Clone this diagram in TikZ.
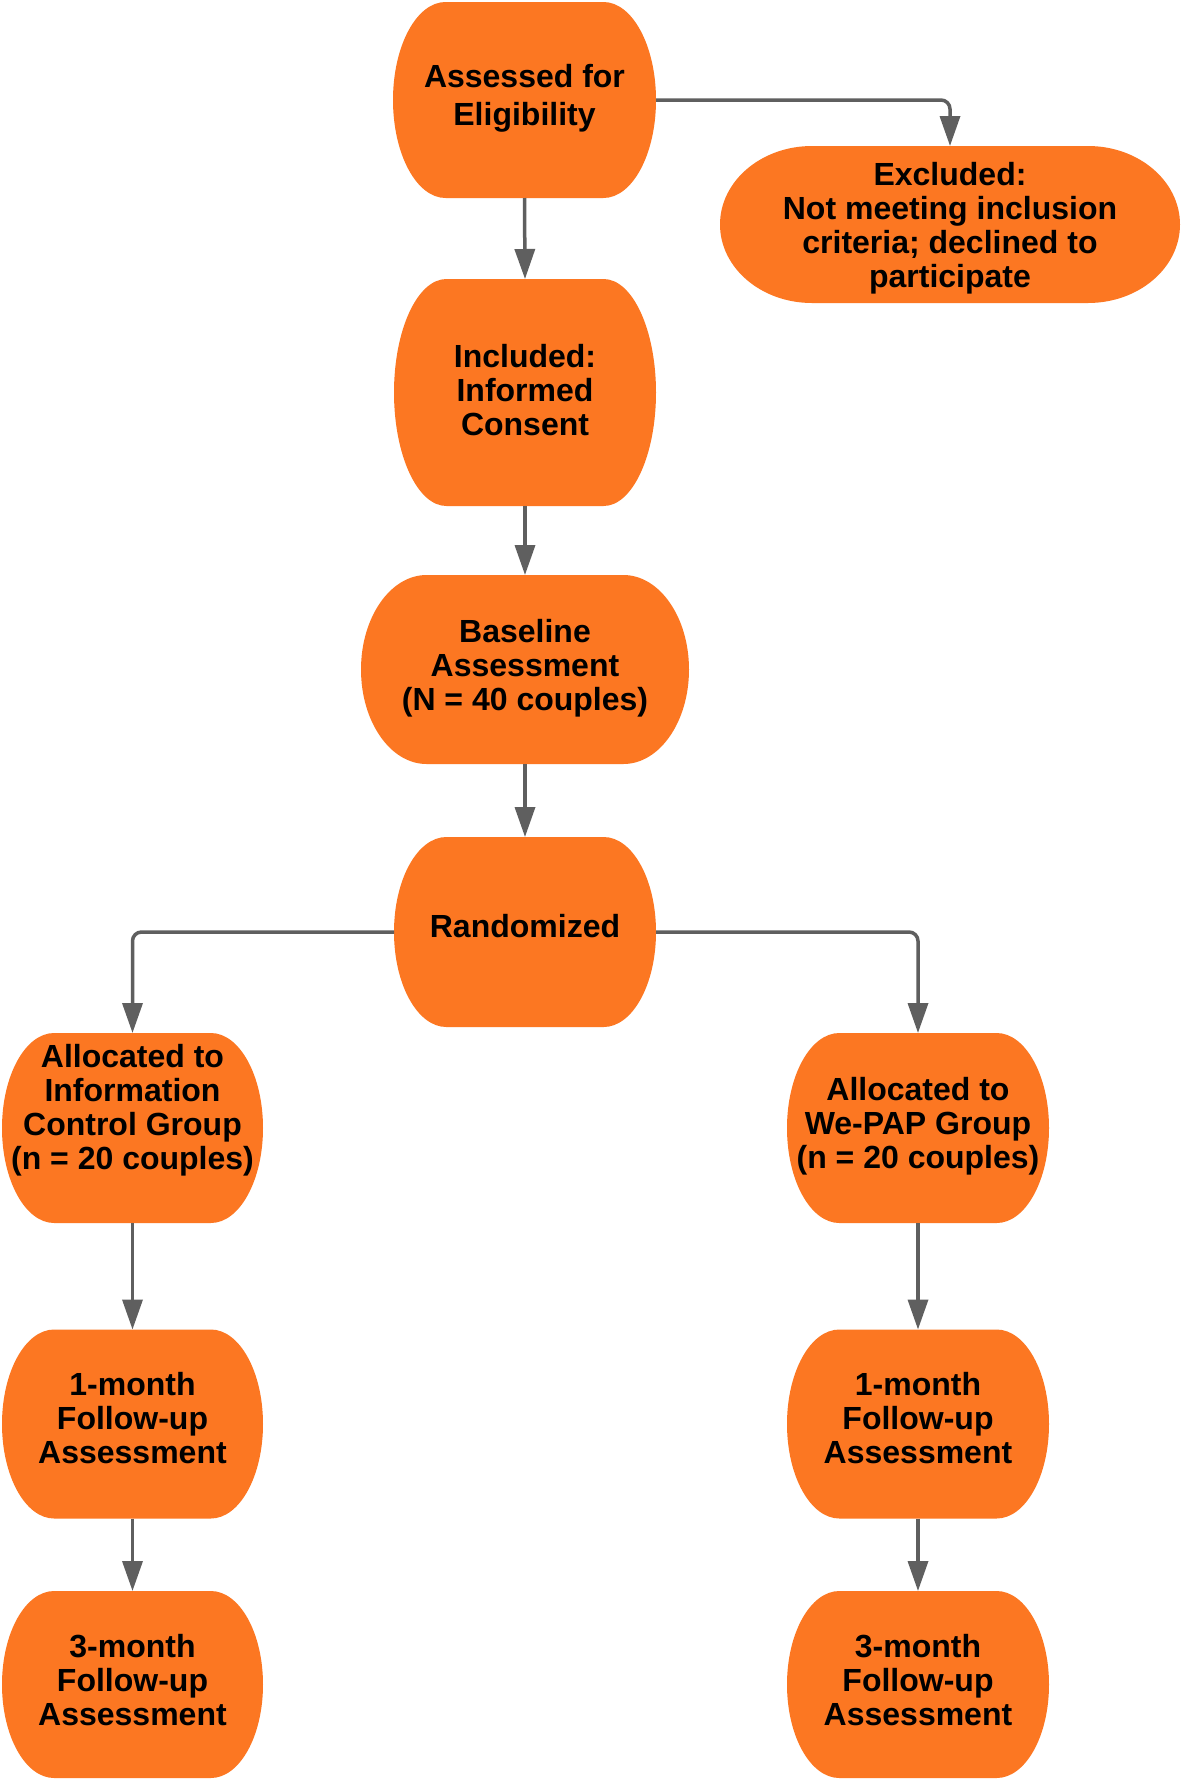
\documentclass[tikz,border=0pt]{standalone}
\usepackage{fontspec}
\setmainfont{Liberation Sans}
\usetikzlibrary{arrows.meta,calc}
\definecolor{orc}{RGB}{252,119,34}
\definecolor{lnc}{RGB}{95,95,95}
\begin{document}
\begin{tikzpicture}[x=1pt,y=1pt,
 blob/.style 2 args={rectangle, inner sep=0pt, outer sep=0pt, minimum width=#1, minimum height=#2,
   path picture={
   \fill[orc] let \p1=(path picture bounding box.north west), \p2=(path picture bounding box.south east),
     \n1={0.2*(\x2-\x1)}, \n2={(\y1-\y2)/2} in
     (\x1+\n1,\y1) -- (\x2-\n1,\y1) arc[start angle=90,end angle=-90,x radius=\n1*1pt,y radius=\n2*1pt]
     -- (\x1+\n1,\y2) arc[start angle=270,end angle=90,x radius=\n1*1pt,y radius=\n2*1pt] -- cycle;}},
 txt/.style={align=center, font=\fontsize{32}{34}\selectfont\bfseries, inner sep=0pt},
 arr/.style={draw=lnc, line width=3.5pt, rounded corners=9pt, -{Triangle[length=30pt,width=20pt]}}]
\useasboundingbox (0,0) rectangle (1184,-1781);
\fill[white] (0,0) rectangle (1184,-1781);

\node[blob={263pt}{196pt}] (assess) at (524.5,-100) {};
\node[blob={460pt}{157pt}] (excl) at (950,-224.5) {};
\node[blob={262pt}{227pt}] (incl) at (525,-392.5) {};
\node[blob={328pt}{189pt}] (base) at (525,-669.5) {};
\node[blob={262pt}{190pt}] (rand) at (525,-932) {};
\node[blob={261pt}{190pt}] (allocL) at (132.5,-1128) {};
\node[blob={262pt}{190pt}] (allocR) at (918,-1128) {};
\node[blob={261pt}{189pt}] (m1L) at (132.5,-1424) {};
\node[blob={262pt}{189pt}] (m1R) at (918,-1424) {};
\node[blob={261pt}{187pt}] (m3L) at (132.5,-1684.5) {};
\node[blob={262pt}{187pt}] (m3R) at (918,-1684.5) {};

\node[txt, font=\fontsize{32}{38}\selectfont\bfseries] (assess-t) at ([yshift=2pt]assess.center) {Assessed for\\Eligibility};
\node[txt] (excl-t) at ([yshift=-3.5pt]excl.center) {Excluded:\\Not meeting inclusion\\criteria; declined to\\participate};
\node[txt] (incl-t) at ([yshift=2pt]incl.center) {Included:\\Informed\\Consent};
\node[txt] (base-t) at ([yshift=1.7pt]base.center) {Baseline\\Assessment\\(N = 40 couples)};
\node[txt] (rand-t) at ([yshift=6pt]rand.center) {Randomized};
\node[txt] (allocL-t) at ([yshift=17.7pt]allocL.center) {Allocated to\\Information\\Control Group\\(n = 20 couples)};
\node[txt] (allocR-t) at ([yshift=1.7pt]allocR.center) {Allocated to\\We-PAP Group\\(n = 20 couples)};
\node[txt] (m1L-t) at ([yshift=6pt]m1L.center) {1-month\\Follow-up\\Assessment};
\node[txt] (m1R-t) at ([yshift=6pt]m1R.center) {1-month\\Follow-up\\Assessment};
\node[txt] (m3L-t) at ([yshift=4pt]m3L.center) {3-month\\Follow-up\\Assessment};
\node[txt] (m3R-t) at ([yshift=4pt]m3R.center) {3-month\\Follow-up\\Assessment};

\draw[arr] (assess.east) -| (excl.north);
\draw[arr] (assess.south) -- (incl.north);
\draw[arr] (incl.south) -- (base.north);
\draw[arr] (base.south) -- (rand.north);
\draw[arr] (rand.west) -| (allocL.north);
\draw[arr] (rand.east) -| (allocR.north);
\draw[arr] (allocL.south) -- (m1L.north);
\draw[arr] (m1L.south) -- (m3L.north);
\draw[arr] (allocR.south) -- (m1R.north);
\draw[arr] (m1R.south) -- (m3R.north);
\end{tikzpicture}
\end{document}
